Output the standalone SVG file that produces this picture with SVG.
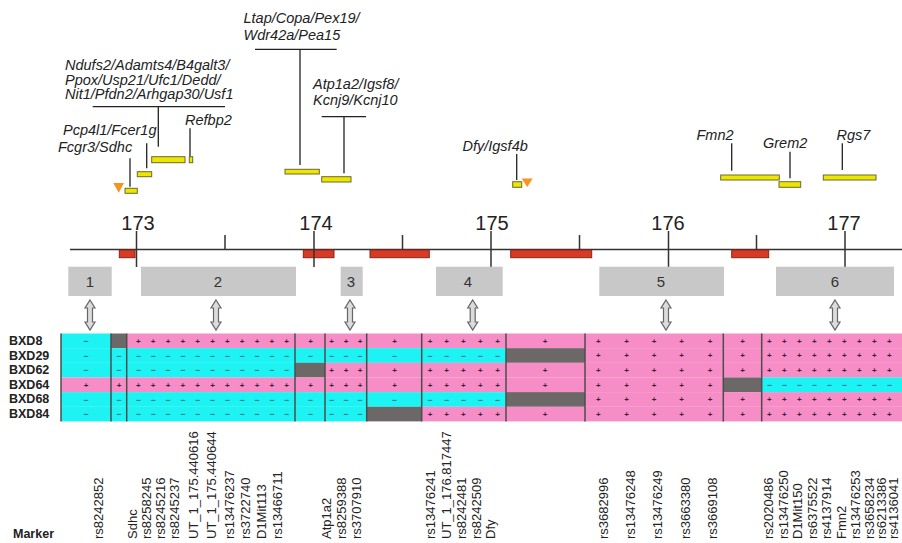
<svg xmlns="http://www.w3.org/2000/svg" width="902" height="543" viewBox="0 0 902 543">
<style>
.gene{font-family:"Liberation Sans",Arial,sans-serif;font-style:italic;font-size:14.5px;fill:#222}
.gl{stroke:#222;stroke-width:1.3;fill:none}
.yb{fill:#EEE600;stroke:#6a6a30;stroke-width:1}
.tri{fill:#F7941D}
.axis{stroke:#333;stroke-width:1.5}
.num{font-family:"Liberation Sans",Arial,sans-serif;font-size:20px;fill:#222;text-anchor:middle}
.red{fill:#D93A26;stroke:#8a2418;stroke-width:1}
.reg{fill:#C8C8C8}
.regt{font-family:"Liberation Sans",Arial,sans-serif;font-size:15px;fill:#333;text-anchor:middle}
.arr{fill:#DCDCDC;stroke:#666;stroke-width:1.2}
.cy{fill:#1DF3F3}
.pk{fill:#F78DC7}
.gy{fill:#6D6868}
.div{stroke:#4d4d4d;stroke-width:1.5}
.row{font-family:"Liberation Sans",Arial,sans-serif;font-weight:bold;font-size:12.5px;fill:#222}
.pl{font-family:"Liberation Sans",Arial,sans-serif;font-weight:bold;font-size:8px;fill:#3a1f30;text-anchor:middle}
.mn{font-family:"Liberation Sans",Arial,sans-serif;font-size:9px;fill:#335;text-anchor:middle}
.mk{font-family:"Liberation Sans",Arial,sans-serif;font-size:13px;fill:#222}
</style>
<defs>
<path id="darr" class="arr" d="M0,0 L5,8 L2.5,8 L2.5,22 L5,22 L0,30 L-5,22 L-2.5,22 L-2.5,8 L-5,8 Z"/>
</defs>

<!-- genes -->
<g id="gene-ndufs2">
<text class="gene" x="65" y="70">Ndufs2/Adamts4/B4galt3/</text>
<text class="gene" x="65" y="84.5">Ppox/Usp21/Ufc1/Dedd/</text>
<text class="gene" x="65" y="99">Nit1/Pfdn2/Arhgap30/Usf1</text>
<path class="gl" d="M92.7,106.7 H225 M158.3,106.7 V146.7"/>
<rect class="yb" x="151.7" y="156.7" width="33.3" height="6"/>
</g>
<g id="gene-refbp2">
<text class="gene" x="185" y="125">Refbp2</text>
<path class="gl" d="M190,128.3 V156.7"/>
<rect class="yb" x="189.3" y="156.7" width="3.4" height="6"/>
</g>
<g id="gene-pcp4l1">
<text class="gene" x="63" y="135">Pcp4l1/Fcer1g</text>
<path class="gl" d="M146.7,143.3 V168.3"/>
<rect class="yb" x="137.3" y="171.7" width="14.4" height="5"/>
</g>
<g id="gene-fcgr3">
<text class="gene" x="58" y="152">Fcgr3/Sdhc</text>
<path class="gl" d="M130,158.3 V186.7"/>
<rect class="yb" x="125" y="188.3" width="12.3" height="5"/>
<polygon class="tri" points="113.3,183 124,183 118.7,192.7"/>
</g>
<g id="gene-ltap">
<text class="gene" x="243.5" y="23">Ltap/Copa/Pex19/</text>
<text class="gene" x="243.5" y="40">Wdr42a/Pea15</text>
<path class="gl" d="M255,49.3 H336.7 M300,49.3 V165"/>
<rect class="yb" x="285" y="169.3" width="34.3" height="4.7"/>
</g>
<g id="gene-atp1a2">
<text class="gene" x="313" y="88.5">Atp1a2/Igsf8/</text>
<text class="gene" x="313" y="105">Kcnj9/Kcnj10</text>
<path class="gl" d="M321.7,116.7 H366 M344,116.7 V173.3"/>
<rect class="yb" x="321.7" y="176.7" width="29.3" height="5.3"/>
</g>
<g id="gene-dfy">
<text class="gene" x="462.5" y="151">Dfy/Igsf4b</text>
<path class="gl" d="M516.7,154 V180"/>
<rect class="yb" x="512.7" y="181.7" width="9" height="5.6"/>
<polygon class="tri" points="521.7,178.5 532.7,178.5 527.2,187"/>
</g>
<g id="gene-fmn2">
<text class="gene" x="696.5" y="139.5">Fmn2</text>
<path class="gl" d="M731.7,143.3 V170.7"/>
<rect class="yb" x="720.7" y="175" width="58.6" height="5"/>
</g>
<g id="gene-grem2">
<text class="gene" x="763" y="147.5">Grem2</text>
<path class="gl" d="M790,151.7 V178.3"/>
<rect class="yb" x="779" y="181.7" width="21.7" height="5.6"/>
</g>
<g id="gene-rgs7">
<text class="gene" x="836.5" y="139.5">Rgs7</text>
<path class="gl" d="M842.3,143.3 V170"/>
<rect class="yb" x="823.3" y="175" width="52.7" height="5"/>
</g>

<!-- axis -->
<g id="axis">
<line class="axis" x1="70" y1="249.5" x2="902" y2="249.5"/>
<rect class="red" x="119.3" y="250" width="15.7" height="7.7"/>
<rect class="red" x="303.3" y="250" width="30.7" height="7.7"/>
<rect class="red" x="370" y="250" width="59.3" height="7.7"/>
<rect class="red" x="510.7" y="250" width="81" height="7.7"/>
<rect class="red" x="731.7" y="250" width="37" height="7.7"/>
<path class="axis" d="M136.5,231 V267 M314,231 V267 M491,231 V267 M668.5,231 V267 M845,231 V267 M225,235 V249.5 M402.5,235 V249.5 M579.5,235 V249.5 M756.5,235 V249.5"/>
<text class="num" x="138" y="230">173</text>
<text class="num" x="316" y="230">174</text>
<text class="num" x="492" y="230">175</text>
<text class="num" x="668" y="230">176</text>
<text class="num" x="844" y="230">177</text>
</g>

<!-- regions -->
<g id="region-1"><rect class="reg" x="68.3" y="266.7" width="43.4" height="29.3"/><text class="regt" x="90" y="287">1</text></g>
<g id="region-2"><rect class="reg" x="141" y="266.7" width="155" height="29.3"/><text class="regt" x="218" y="287">2</text></g>
<g id="region-3"><rect class="reg" x="340.7" y="266.7" width="22" height="29.3"/><text class="regt" x="351" y="287">3</text></g>
<g id="region-4"><rect class="reg" x="436" y="266.7" width="66.7" height="29.3"/><text class="regt" x="468" y="287">4</text></g>
<g id="region-5"><rect class="reg" x="599.3" y="266.7" width="124.7" height="29.3"/><text class="regt" x="661" y="287">5</text></g>
<g id="region-6"><rect class="reg" x="776" y="266.7" width="118" height="29.3"/><text class="regt" x="835" y="287">6</text></g>

<g id="connectors">
<use href="#darr" x="90" y="300"/>
<use href="#darr" x="216" y="300"/>
<use href="#darr" x="350" y="300"/>
<use href="#darr" x="472.7" y="300"/>
<use href="#darr" x="666" y="300"/>
<use href="#darr" x="835" y="300"/>
</g>

<!-- haplotype grid -->
<g id="grid">
<rect class="cy" x="61" y="333.5" width="50" height="14.7"/>
<rect class="gy" x="111" y="333.5" width="15.7" height="14.7"/>
<rect class="pk" x="126.7" y="333.5" width="775.3" height="14.7"/>
<rect class="cy" x="61" y="348.15" width="445" height="14.7"/>
<rect class="gy" x="506" y="348.15" width="79" height="14.7"/>
<rect class="pk" x="585" y="348.15" width="317" height="14.7"/>
<rect class="cy" x="61" y="362.8" width="234" height="14.7"/>
<rect class="gy" x="295" y="362.8" width="30" height="14.7"/>
<rect class="pk" x="325" y="362.8" width="577" height="14.7"/>
<rect class="pk" x="61" y="377.45" width="662.3" height="14.7"/>
<rect class="gy" x="723.3" y="377.45" width="38.4" height="14.7"/>
<rect class="cy" x="761.7" y="377.45" width="140.3" height="14.7"/>
<rect class="cy" x="61" y="392.1" width="445" height="14.7"/>
<rect class="gy" x="506" y="392.1" width="79" height="14.7"/>
<rect class="pk" x="585" y="392.1" width="317" height="14.7"/>
<rect class="cy" x="61" y="406.75" width="305.7" height="14.65"/>
<rect class="gy" x="366.7" y="406.75" width="55" height="14.65"/>
<rect class="pk" x="421.7" y="406.75" width="480.3" height="14.65"/>

<path class="div" d="M61,333.5 V421.4 M111,333.5 V421.4 M126.7,333.5 V421.4 M295,333.5 V421.4 M325,333.5 V421.4 M366.7,333.5 V421.4 M421.7,333.5 V421.4 M506,333.5 V421.4 M585,333.5 V421.4 M723.3,333.5 V421.4 M761.7,333.5 V421.4"/>

<text class="mn" x="86" y="344">−</text>
<text class="pl" x="138.3 153.1 168 182.8 197.7 212.5 227.3 242.2 257 271.9 286.7 310.5 331.7 346 360 394.5 430 446.7 463.3 480.3 497.5 545 598.3 626.7 654 681.7 710 742.5 769.3 784.3 799.3 814.3 829.3 844.3 859.3 874.3 889.3" y="343.6">+++++++++++++++++++++++++++++++++++++</text>

<text class="mn" x="86 119 138.3 153.1 168 182.8 197.7 212.5 227.3 242.2 257 271.9 286.7 310.5 331.7 346 360 394.5 430 446.7 463.3 480.3 497.5" y="358.6">−−−−−−−−−−−−−−−−−−−−−−−</text>
<text class="pl" x="598.3 626.7 654 681.7 710 742.5 769.3 784.3 799.3 814.3 829.3 844.3 859.3 874.3 889.3" y="358.2">+++++++++++++++</text>

<text class="mn" x="86 119 138.3 153.1 168 182.8 197.7 212.5 227.3 242.2 257 271.9 286.7" y="373.2">−−−−−−−−−−−−−</text>
<text class="pl" x="331.7 346 360 394.5 430 446.7 463.3 480.3 497.5 545 598.3 626.7 654 681.7 710 742.5 769.3 784.3 799.3 814.3 829.3 844.3 859.3 874.3 889.3" y="372.8">+++++++++++++++++++++++++</text>

<text class="pl" x="86 119 138.3 153.1 168 182.8 197.7 212.5 227.3 242.2 257 271.9 286.7 310.5 331.7 346 360 394.5 430 446.7 463.3 480.3 497.5 545 598.3 626.7 654 681.7 710" y="387.5">+++++++++++++++++++++++++++++</text>
<text class="mn" x="769.3 784.3 799.3 814.3 829.3 844.3 859.3 874.3 889.3" y="387.9">−−−−−−−−−</text>

<text class="mn" x="86 119 138.3 153.1 168 182.8 197.7 212.5 227.3 242.2 257 271.9 286.7 310.5 331.7 346 360 394.5 430 446.7 463.3 480.3 497.5" y="402.5">−−−−−−−−−−−−−−−−−−−−−−−</text>
<text class="pl" x="598.3 626.7 654 681.7 710 742.5 769.3 784.3 799.3 814.3 829.3 844.3 859.3 874.3 889.3" y="402.1">+++++++++++++++</text>

<text class="mn" x="86 119 138.3 153.1 168 182.8 197.7 212.5 227.3 242.2 257 271.9 286.7 310.5 331.7 346 360" y="417.2">−−−−−−−−−−−−−−−−−</text>
<text class="pl" x="430 446.7 463.3 480.3 497.5 545 598.3 626.7 654 681.7 710 742.5 769.3 784.3 799.3 814.3 829.3 844.3 859.3 874.3 889.3" y="416.8">+++++++++++++++++++++</text>
</g>

<g id="strains">
<text class="row" x="9" y="345">BXD8</text>
<text class="row" x="9" y="359.5">BXD29</text>
<text class="row" x="9" y="374">BXD62</text>
<text class="row" x="9" y="388.5">BXD64</text>
<text class="row" x="9" y="403">BXD68</text>
<text class="row" x="9" y="417.5">BXD84</text>
</g>

<g id="markers">
<text class="row" x="13" y="538">Marker</text>
<text class="mk" transform="translate(103,539) rotate(-90)">rs8242852</text>
<text class="mk" transform="translate(137,539) rotate(-90)">Sdhc</text>
<text class="mk" transform="translate(151,539) rotate(-90)">rs8258245</text>
<text class="mk" transform="translate(165,539) rotate(-90)">rs8245216</text>
<text class="mk" transform="translate(179,539) rotate(-90)">rs8245237</text>
<text class="mk" transform="translate(198,539) rotate(-90)">UT_1_175.440616</text>
<text class="mk" transform="translate(216,539) rotate(-90)">UT_1_175.440644</text>
<text class="mk" transform="translate(234,539) rotate(-90)">rs13476237</text>
<text class="mk" transform="translate(250,539) rotate(-90)">rs3722740</text>
<text class="mk" transform="translate(266,539) rotate(-90)">D1Mit113</text>
<text class="mk" transform="translate(282,539) rotate(-90)">rs13466711</text>
<text class="mk" transform="translate(331,539) rotate(-90)">Atp1a2</text>
<text class="mk" transform="translate(346,539) rotate(-90)">rs8259388</text>
<text class="mk" transform="translate(360.5,539) rotate(-90)">rs3707910</text>
<text class="mk" transform="translate(434.5,539) rotate(-90)">rs13476241</text>
<text class="mk" transform="translate(450.5,539) rotate(-90)">UT_1_176.817447</text>
<text class="mk" transform="translate(466,539) rotate(-90)">rs8242481</text>
<text class="mk" transform="translate(481,539) rotate(-90)">rs8242509</text>
<text class="mk" transform="translate(495,539) rotate(-90)">Dfy</text>
<text class="mk" transform="translate(608,539) rotate(-90)">rs3682996</text>
<text class="mk" transform="translate(634.5,539) rotate(-90)">rs13476248</text>
<text class="mk" transform="translate(662,539) rotate(-90)">rs13476249</text>
<text class="mk" transform="translate(689.5,539) rotate(-90)">rs3663380</text>
<text class="mk" transform="translate(717,539) rotate(-90)">rs3669108</text>
<text class="mk" transform="translate(773,539) rotate(-90)">rs2020486</text>
<text class="mk" transform="translate(787.5,539) rotate(-90)">rs13476250</text>
<text class="mk" transform="translate(802,539) rotate(-90)">D1Mit150</text>
<text class="mk" transform="translate(816.5,539) rotate(-90)">rs6375522</text>
<text class="mk" transform="translate(831,539) rotate(-90)">rs4137914</text>
<text class="mk" transform="translate(845.5,539) rotate(-90)">Fmn2</text>
<text class="mk" transform="translate(860,539) rotate(-90)">rs13476253</text>
<text class="mk" transform="translate(874,539) rotate(-90)">rs3658234</text>
<text class="mk" transform="translate(886,539) rotate(-90)">rs6213386</text>
<text class="mk" transform="translate(898,539) rotate(-90)">rs4136041</text>
</g>
</svg>
